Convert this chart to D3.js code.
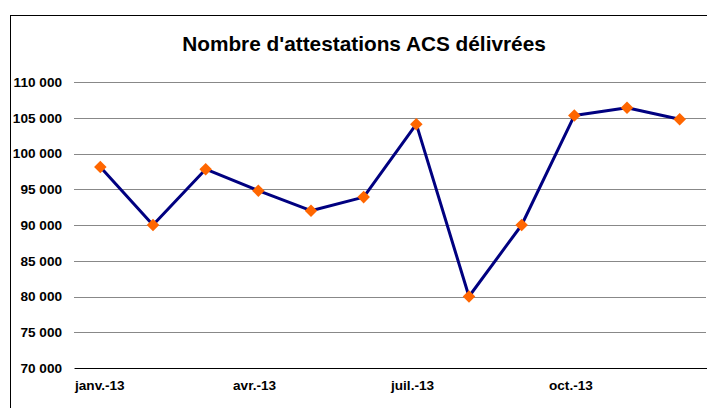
<!DOCTYPE html>
<html><head><meta charset="utf-8">
<script src="https://cdn.jsdelivr.net/npm/d3@7/dist/d3.min.js"></script>
<style>body{margin:0;background:#fff}svg{display:block}text{font-family:"Liberation Sans",Arial,sans-serif}</style>
</head><body><svg id="c" width="707" height="408"></svg>
<script>
const months = ["janv.-13","févr.-13","mars-13","avr.-13","mai-13","juin-13","juil.-13","août-13","sept.-13","oct.-13","nov.-13","déc.-13"];
const values = [98100, 90000, 97800, 94800, 92000, 93900, 104100, 80000, 90000, 105300, 106400, 104800];
const shownLabels = ["janv.-13","avr.-13","juil.-13","oct.-13"];
const yTicks = [70000,75000,80000,85000,90000,95000,100000,105000,110000];
const title = "Nombre d'attestations ACS délivrées";

const svg = d3.select("#c");
svg.append("rect").attr("x",10.5).attr("y",15.5).attr("width",720).attr("height",420)
  .attr("fill","#fff").attr("stroke","#000").attr("stroke-width",1);

const L=74, R=706, T=82, B=368;
const x = d3.scaleBand().domain(months).range([L,R]);
const y = d3.scaleLinear().domain([70000,110000]).range([B,T]);

svg.append("text").attr("x",364).attr("y",51).attr("text-anchor","middle")
  .attr("font-size",20.8).attr("font-weight","bold").text(title);

const fmt = v => d3.format(",")(v).replace(/,/g," ");
const ga = svg.append("g").attr("transform",`translate(${L},0)`)
  .call(d3.axisLeft(y).tickValues(yTicks).tickSize(-(R-L)).tickPadding(12).tickFormat(fmt));
ga.select(".domain").remove();
ga.selectAll(".tick line").attr("stroke","#888").attr("shape-rendering","crispEdges");
ga.selectAll(".tick text").attr("font-size",13.6).attr("font-weight","bold").attr("fill","#000")
  .attr("font-family","Liberation Sans, Arial, sans-serif");

const gx = svg.append("g").attr("transform",`translate(0,${B})`)
  .call(d3.axisBottom(x).tickSize(0).tickFormat(d => shownLabels.includes(d)?d:""));
gx.select(".domain").attr("stroke","#000").attr("shape-rendering","crispEdges");
gx.selectAll(".tick text").attr("font-size",13.6).attr("font-weight","bold").attr("fill","#000")
  .attr("font-family","Liberation Sans, Arial, sans-serif")
  .attr("text-anchor","start").attr("dy",null).attr("y",22)
  .attr("x",-x.bandwidth()/2+1);

const cx = d => x(d) + x.bandwidth()/2;
const line = d3.line().x((d,i)=>cx(months[i])).y(d=>y(d));
svg.append("path").datum(values).attr("d",line).attr("fill","none")
  .attr("stroke","#000080").attr("stroke-width",3).attr("stroke-linejoin","round");

const sym = d3.symbol().type(d3.symbolDiamond2).size(100);
svg.selectAll(".m").data(values).join("path").attr("class","m")
  .attr("transform",(d,i)=>`translate(${cx(months[i])},${y(d)})`)
  .attr("d",sym).attr("fill","#FF6600");
</script></body></html>
